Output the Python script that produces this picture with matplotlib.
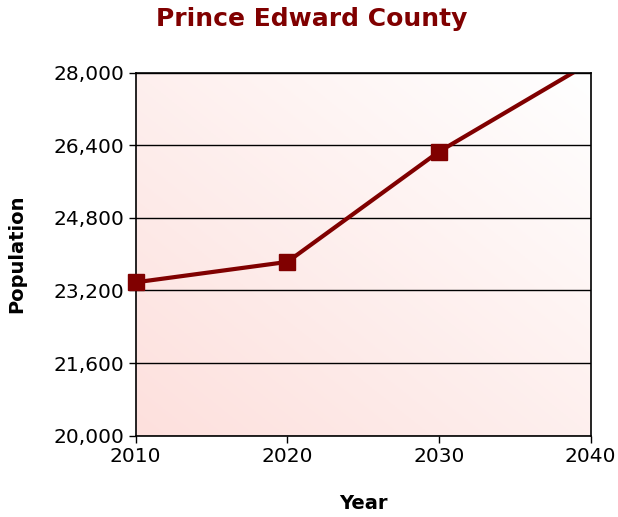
import numpy as np
import matplotlib
matplotlib.use('Agg')
import matplotlib.pyplot as plt
from matplotlib.colors import LinearSegmentedColormap
from matplotlib.ticker import FuncFormatter

years = [2010, 2020, 2030, 2040]
population = [23380, 23830, 26260, 28230]
yticks = [20000, 21600, 23200, 24800, 26400, 28000]
xticks = [2010, 2020, 2030, 2040]

dark_red = '#800000'

fig = plt.figure(figsize=(6.18, 5.17), dpi=100)
ax = fig.add_axes([0.2196, 0.1573, 0.7362, 0.7021])

# pink diagonal gradient: bottom-left to top-right
gx, gy = np.meshgrid(np.linspace(0, 1, 200), np.linspace(0, 1, 200))
g = (gx + (1 - gy)) / 2.0
cmap = LinearSegmentedColormap.from_list('bg', ['#ffffff', '#fde0dd'])
ax.imshow(1 - g[::-1], cmap=cmap, extent=[0, 1, 0, 1], transform=ax.transAxes,
          aspect='auto', zorder=0, origin='lower')

ax.plot(years, population, color=dark_red, lw=3, zorder=3)
# markers only on the points inside the range, not clipped at the frame
ax.plot(years[:3], population[:3], color=dark_red, lw=0, marker='s', ms=11,
        zorder=5, clip_on=False)

ax.set_xlim(2010, 2040)
ax.set_ylim(20000, 28000)
ax.set_xticks(xticks)
ax.set_yticks(yticks)
ax.yaxis.set_major_formatter(FuncFormatter(lambda v, p: f'{int(v):,}'))
ax.grid(axis='y', color='black', lw=1, zorder=1)
ax.tick_params(direction='out', length=5, width=1, labelsize=14.5, color='black')
for s in ax.spines.values():
    s.set_linewidth(1.2)
    s.set_zorder(4)

ax.set_xlabel('Year', fontsize=14, fontweight='bold', labelpad=20)
ax.set_ylabel('Population', fontsize=14, fontweight='bold', labelpad=19)
fig.text(0.505, 0.963, 'Prince Edward County', ha='center', va='center',
         fontsize=18, fontweight='bold', color=dark_red)

fig.savefig('out.png', dpi=100)
